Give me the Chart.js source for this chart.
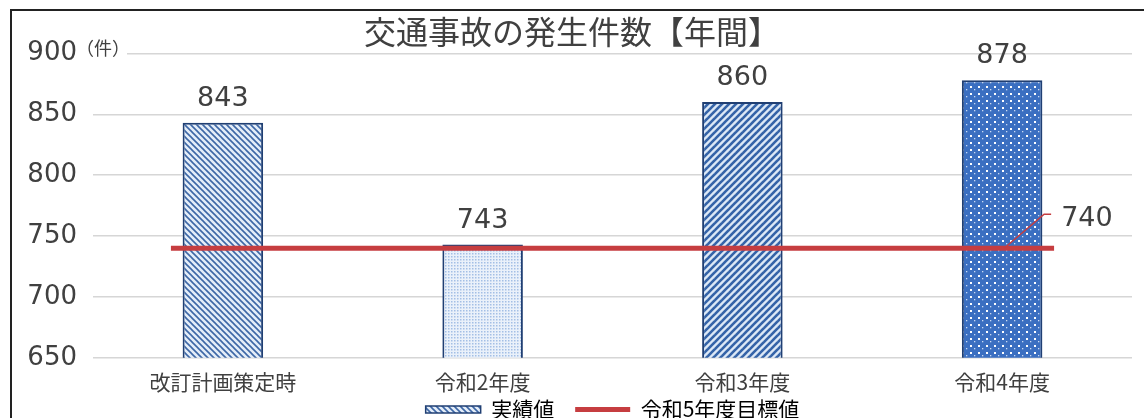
<!DOCTYPE html>
<html>
<head>
<meta charset="utf-8">
<script src="https://cdn.jsdelivr.net/npm/chart.js@4.4.1/dist/chart.umd.min.js"></script>
<style>
html, body { margin: 0; padding: 0; background: #fff; overflow: hidden; }
#wrap { width: 1144px; height: 430px; position: relative; }
</style>
</head>
<body>
<div id="wrap"><canvas id="chart"></canvas></div>
<script>
// 交通事故の発生件数（年間）
var labels = ['改訂計画策定時', '令和2年度', '令和3年度', '令和4年度'];
var actual = [843, 743, 860, 878];
var target = 740;
var targetSpan = [-0.2, 3.2];   // 目標線の左端・右端（カテゴリ番号）
var yMin = 650, yMax = 900, yStep = 50;

var RED = '#c63d40';
var NAVY = '#203f73';
var TEXT = '#404040';

var canvas = document.getElementById('chart');
var ctx = canvas.getContext('2d');

// 塗りつぶし用のパターン
function makePattern(w, h, draw) {
    var c = document.createElement('canvas');
    c.width = w;
    c.height = h;
    draw(c.getContext('2d'), w, h);
    return ctx.createPattern(c, 'repeat');
}

var hatchDown = makePattern(6, 6, function (g, w, h) {
    g.fillStyle = '#e4edf8';
    g.fillRect(0, 0, w, h);
    g.strokeStyle = '#3d67a6';
    g.lineWidth = 1.6;
    for (var k = -1; k <= 1; k++) {
        g.beginPath();
        g.moveTo(-1, k * h - 1);
        g.lineTo(w + 1, k * h + h + 1);
        g.stroke();
    }
});

var dotsLight = makePattern(3, 3, function (g, w, h) {
    g.fillStyle = '#eaf1fa';
    g.fillRect(0, 0, w, h);
    g.fillStyle = '#a3bfe5';
    g.fillRect(1, 1, 1.5, 1.5);
});

var hatchUp = makePattern(7, 7, function (g, w, h) {
    g.fillStyle = '#dce8f6';
    g.fillRect(0, 0, w, h);
    g.strokeStyle = '#3463a8';
    g.lineWidth = 2.6;
    for (var k = 0; k <= 2; k++) {
        g.beginPath();
        g.moveTo(-1, k * h + 1);
        g.lineTo(w + 1, k * h - h - 1);
        g.stroke();
    }
});

var dotsDark = makePattern(8, 7, function (g, w, h) {
    g.fillStyle = '#3b6fc1';
    g.fillRect(0, 0, w, h);
    g.fillStyle = '#ffffff';
    g.fillRect(2, 2, 2, 2);
    g.fillStyle = '#c9d9f2';
    g.fillRect(6, 5, 1.3, 1.3);
});

var barFills = [hatchDown, dotsLight, hatchUp, dotsDark];

// 外枠と白背景
var framePlugin = {
    id: 'frame',
    beforeDraw: function (chart) {
        var c = chart.ctx;
        c.save();
        c.fillStyle = '#fff';
        c.fillRect(0, 0, chart.width, chart.height);
        c.strokeStyle = '#222';
        c.lineWidth = 2;
        c.strokeRect(11, 10, 1160, 500);
        c.restore();
    }
};

// 単位「（件）」
var unitPlugin = {
    id: 'unit',
    afterDraw: function (chart) {
        var c = chart.ctx;
        var y = chart.scales.y.getPixelForValue(yMax);
        c.save();
        c.fillStyle = '#fff';
        c.fillRect(chart.chartArea.left - 10, y - 4, 44, 8);
        c.fillStyle = TEXT;
        c.font = '18px "Noto Sans CJK JP"';
        c.textBaseline = 'middle';
        c.textAlign = 'left';
        c.fillText('（件）', chart.chartArea.left - 17, y - 5);
        c.restore();
    }
};

// 棒の上の数値と目標値ラベル
var valuePlugin = {
    id: 'values',
    afterDatasetsDraw: function (chart) {
        var c = chart.ctx;
        c.save();
        c.fillStyle = TEXT;
        c.font = '27px "DejaVu Sans"';
        c.textAlign = 'center';
        c.textBaseline = 'middle';
        chart.getDatasetMeta(0).data.forEach(function (bar, i) {
            c.fillText(String(actual[i]), bar.x, bar.y - 24);
        });

        var x0 = chart.scales.x.getPixelForValue(3) + 2;
        var y0 = chart.scales.y.getPixelForValue(target);
        c.strokeStyle = RED;
        c.lineWidth = 1.5;
        c.beginPath();
        c.moveTo(x0, y0);
        c.lineTo(x0 + 40, y0 - 34);
        c.lineTo(x0 + 47, y0 - 34);
        c.stroke();
        c.textAlign = 'left';
        c.fillText(String(target), x0 + 57, y0 - 29);
        c.restore();
    }
};

new Chart(canvas, {
    data: {
        labels: labels,
        datasets: [{
            type: 'bar',
            label: '実績値',
            data: actual,
            backgroundColor: barFills,
            borderColor: NAVY,
            borderWidth: 2,
            grouped: false,
            barPercentage: 0.31,
            categoryPercentage: 1,
            order: 1
        }, {
            type: 'line',
            label: '令和5年度目標値',
            xAxisID: 'x2',
            data: targetSpan.map(function (x) { return { x: x, y: target }; }),
            borderColor: RED,
            backgroundColor: RED,
            borderWidth: 5,
            pointRadius: 0,
            order: 0
        }]
    },
    options: {
        responsive: true,
        maintainAspectRatio: false,
        animation: false,
        layout: { padding: { top: 10, left: 12, right: 12, bottom: 0 } },
        scales: {
            x: {
                type: 'category',
                grid: { display: false },
                border: { display: false },
                ticks: {
                    color: TEXT,
                    padding: 4,
                    font: { family: '"Noto Sans CJK JP"', size: 21 }
                }
            },
            x2: {
                type: 'linear',
                display: false,
                min: -0.5,
                max: 3.5
            },
            y: {
                min: yMin,
                max: yMax,
                grid: { color: '#d6d6d6', lineWidth: 1.5, drawTicks: false },
                border: { display: false },
                ticks: {
                    stepSize: yStep,
                    color: TEXT,
                    padding: 16,
                    font: { family: '"DejaVu Sans"', size: 26 }
                },
                afterFit: function (scale) { scale.width = 81; }
            }
        },
        plugins: {
            title: {
                display: true,
                text: '交通事故の発生件数【年間】',
                color: TEXT,
                font: { family: '"Noto Sans CJK JP"', size: 32, weight: 'normal' },
                padding: { top: 3, bottom: 2 }
            },
            legend: {
                position: 'bottom',
                fullSize: false,
                labels: {
                    usePointStyle: true,
                    pointStyleWidth: 55,
                    boxHeight: 7,
                    padding: 0,
                    color: TEXT,
                    font: { family: '"Noto Sans CJK JP"', size: 21, lineHeight: 0.5 },
                    generateLabels: function () {
                        return [{
                            text: '実績値\u3000',
                            fillStyle: hatchDown,
                            strokeStyle: NAVY,
                            lineWidth: 1.5,
                            pointStyle: 'rect',
                            datasetIndex: 0,
                            hidden: false
                        }, {
                            text: '令和5年度目標値',
                            fillStyle: RED,
                            strokeStyle: RED,
                            lineWidth: 5,
                            pointStyle: 'line',
                            datasetIndex: 1,
                            hidden: false
                        }];
                    }
                }
            },
            tooltip: { enabled: false }
        }
    },
    plugins: [framePlugin, unitPlugin, valuePlugin]
});
</script>
</body>
</html>
